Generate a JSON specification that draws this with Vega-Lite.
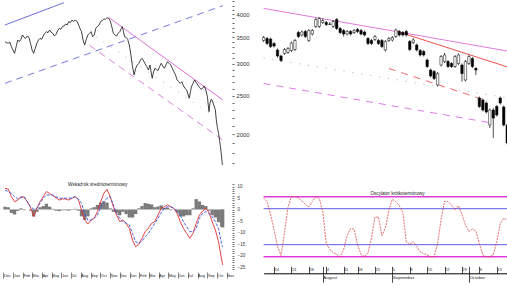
{
"$schema":"https://vega.github.io/schema/vega-lite/v6.json",
"width":507,"height":286,"padding":0,"autosize":"none",
"config":{"view":{"stroke":null},"axis":{"grid":false,"title":null,"labelFont":"Liberation Sans"},"text":{"font":"Liberation Sans"}},
"datasets":{
"tl":[{"d":"2006-12-06","p":3411},{"d":"2006-12-11","p":3391},{"d":"2006-12-16","p":3379},{"d":"2006-12-21","p":3405},{"d":"2006-12-26","p":3314},{"d":"2006-12-31","p":3251},{"d":"2007-01-05","p":3190},{"d":"2007-01-10","p":3314},{"d":"2007-01-15","p":3444},{"d":"2007-01-20","p":3411},{"d":"2007-01-25","p":3457},{"d":"2007-01-30","p":3545},{"d":"2007-02-04","p":3497},{"d":"2007-02-09","p":3477},{"d":"2007-02-14","p":3524},{"d":"2007-02-19","p":3497},{"d":"2007-02-24","p":3379},{"d":"2007-03-01","p":3251},{"d":"2007-03-06","p":3190},{"d":"2007-03-11","p":3283},{"d":"2007-03-16","p":3379},{"d":"2007-03-21","p":3444},{"d":"2007-03-26","p":3477},{"d":"2007-03-31","p":3457},{"d":"2007-04-05","p":3524},{"d":"2007-04-10","p":3579},{"d":"2007-04-15","p":3613},{"d":"2007-04-20","p":3592},{"d":"2007-04-25","p":3648},{"d":"2007-04-30","p":3599},{"d":"2007-05-05","p":3579},{"d":"2007-05-10","p":3524},{"d":"2007-05-15","p":3558},{"d":"2007-05-20","p":3634},{"d":"2007-05-25","p":3683},{"d":"2007-05-30","p":3662},{"d":"2007-06-04","p":3719},{"d":"2007-06-09","p":3733},{"d":"2007-06-14","p":3776},{"d":"2007-06-19","p":3755},{"d":"2007-06-24","p":3827},{"d":"2007-06-29","p":3805},{"d":"2007-07-04","p":3864},{"d":"2007-07-09","p":3827},{"d":"2007-07-14","p":3864},{"d":"2007-07-19","p":3842},{"d":"2007-07-24","p":3776},{"d":"2007-07-29","p":3683},{"d":"2007-08-03","p":3613},{"d":"2007-08-08","p":3444},{"d":"2007-08-13","p":3346},{"d":"2007-08-18","p":3457},{"d":"2007-08-23","p":3545},{"d":"2007-08-28","p":3579},{"d":"2007-09-02","p":3613},{"d":"2007-09-07","p":3511},{"d":"2007-09-12","p":3545},{"d":"2007-09-17","p":3683},{"d":"2007-09-22","p":3719},{"d":"2007-09-27","p":3755},{"d":"2007-10-02","p":3827},{"d":"2007-10-07","p":3849},{"d":"2007-10-12","p":3887},{"d":"2007-10-17","p":3879},{"d":"2007-10-22","p":3916},{"d":"2007-10-27","p":3901},{"d":"2007-11-01","p":3849},{"d":"2007-11-06","p":3719},{"d":"2007-11-11","p":3579},{"d":"2007-11-16","p":3545},{"d":"2007-11-21","p":3524},{"d":"2007-11-26","p":3579},{"d":"2007-12-01","p":3613},{"d":"2007-12-06","p":3683},{"d":"2007-12-09","p":3719},{"d":"2007-12-13","p":3613},{"d":"2007-12-16","p":3511},{"d":"2007-12-21","p":3497},{"d":"2007-12-26","p":3457},{"d":"2007-12-31","p":3346},{"d":"2008-01-05","p":3159},{"d":"2008-01-10","p":2954},{"d":"2008-01-15","p":2816},{"d":"2008-01-20","p":2926},{"d":"2008-01-25","p":2982},{"d":"2008-01-30","p":3011},{"d":"2008-02-04","p":3069},{"d":"2008-02-09","p":3099},{"d":"2008-02-14","p":3052},{"d":"2008-02-19","p":3000},{"d":"2008-02-24","p":2954},{"d":"2008-02-29","p":2898},{"d":"2008-03-05","p":2982},{"d":"2008-03-10","p":2816},{"d":"2008-03-12","p":2762},{"d":"2008-03-15","p":2843},{"d":"2008-03-20","p":2926},{"d":"2008-03-25","p":2909},{"d":"2008-03-30","p":2887},{"d":"2008-04-04","p":2954},{"d":"2008-04-09","p":3011},{"d":"2008-04-14","p":2965},{"d":"2008-04-19","p":2926},{"d":"2008-04-24","p":2982},{"d":"2008-04-29","p":3040},{"d":"2008-05-04","p":3011},{"d":"2008-05-09","p":2982},{"d":"2008-05-14","p":2926},{"d":"2008-05-19","p":2870},{"d":"2008-05-24","p":2816},{"d":"2008-05-29","p":2736},{"d":"2008-06-03","p":2709},{"d":"2008-06-08","p":2684},{"d":"2008-06-13","p":2709},{"d":"2008-06-18","p":2643},{"d":"2008-06-23","p":2608},{"d":"2008-06-28","p":2583},{"d":"2008-07-03","p":2509},{"d":"2008-07-06","p":2462},{"d":"2008-07-10","p":2558},{"d":"2008-07-13","p":2633},{"d":"2008-07-18","p":2684},{"d":"2008-07-23","p":2736},{"d":"2008-07-28","p":2694},{"d":"2008-08-02","p":2658},{"d":"2008-08-07","p":2623},{"d":"2008-08-12","p":2593},{"d":"2008-08-17","p":2608},{"d":"2008-08-22","p":2643},{"d":"2008-08-27","p":2583},{"d":"2008-09-01","p":2485},{"d":"2008-09-06","p":2280},{"d":"2008-09-09","p":2392},{"d":"2008-09-13","p":2448},{"d":"2008-09-16","p":2438},{"d":"2008-09-21","p":2369},{"d":"2008-09-26","p":2302},{"d":"2008-09-29","p":2173},{"d":"2008-10-02","p":2091},{"d":"2008-10-06","p":2012},{"d":"2008-10-09","p":1937},{"d":"2008-10-12","p":1864},{"d":"2008-10-15","p":1777},{"d":"2008-10-18","p":1677}],
"bl":[{"d":"2006-12-06","m":9.2,"s":8.5,"h":1.2},{"d":"2006-12-16","m":8.9,"s":7.8,"h":1.0},{"d":"2006-12-26","m":5.6,"s":7.0,"h":-1.5},{"d":"2007-01-05","m":3.4,"s":5.6,"h":-2.2},{"d":"2007-01-15","m":4.1,"s":4.6,"h":-0.6},{"d":"2007-01-25","m":5.6,"s":5.1,"h":0.5},{"d":"2007-02-04","m":5.3,"s":5.6,"h":-0.3},{"d":"2007-02-14","m":3.4,"s":3.4,"h":0},{"d":"2007-02-24","m":0.9,"s":1.2,"h":-0.5},{"d":"2007-03-06","m":-3.1,"s":0.2,"h":-3.0},{"d":"2007-03-16","m":0.5,"s":0.5,"h":-1.0},{"d":"2007-03-26","m":3.4,"s":2.7,"h":1.0},{"d":"2007-04-05","m":5.6,"s":4.9,"h":1.5},{"d":"2007-04-15","m":7.8,"s":6.3,"h":2.5},{"d":"2007-04-25","m":7.0,"s":6.3,"h":1.2},{"d":"2007-05-05","m":6.0,"s":6.3,"h":0.3},{"d":"2007-05-15","m":5.1,"s":5.6,"h":-0.5},{"d":"2007-05-25","m":4.1,"s":4.9,"h":-0.7},{"d":"2007-06-04","m":4.6,"s":4.9,"h":-0.3},{"d":"2007-06-14","m":4.6,"s":4.9,"h":-0.3},{"d":"2007-06-24","m":4.1,"s":4.9,"h":-0.5},{"d":"2007-07-04","m":4.9,"s":5.1,"h":-0.2},{"d":"2007-07-14","m":5.6,"s":5.6,"h":0.3},{"d":"2007-07-24","m":4.4,"s":4.6,"h":-0.5},{"d":"2007-08-03","m":-0.2,"s":2.7,"h":-3.0},{"d":"2007-08-13","m":-4.6,"s":-1.7,"h":-4.5},{"d":"2007-08-23","m":-6.3,"s":-4.6,"h":-3.0},{"d":"2007-09-02","m":-4.6,"s":-4.6,"h":0.5},{"d":"2007-09-12","m":-3.8,"s":-3.8,"h":1.0},{"d":"2007-09-22","m":-0.9,"s":-2.4,"h":2.0},{"d":"2007-10-02","m":3.4,"s":0.8,"h":3.0},{"d":"2007-10-12","m":7.0,"s":3.4,"h":3.5},{"d":"2007-10-22","m":8.8,"s":4.9,"h":3.0},{"d":"2007-11-01","m":5.6,"s":5.6,"h":0.5},{"d":"2007-11-11","m":1.2,"s":2.0,"h":-1.0},{"d":"2007-11-21","m":-2.4,"s":-1.7,"h":-1.5},{"d":"2007-12-01","m":-5.3,"s":-3.8,"h":-2.5},{"d":"2007-12-11","m":-4.6,"s":-5.3,"h":-1.0},{"d":"2007-12-21","m":-6.0,"s":-6.0,"h":-2.0},{"d":"2007-12-31","m":-8.2,"s":-6.7,"h":-3.5},{"d":"2008-01-10","m":-13.3,"s":-10.4,"h":-3.5},{"d":"2008-01-20","m":-16.2,"s":-14.0,"h":-2.0},{"d":"2008-01-30","m":-15.0,"s":-14.7,"h":0.5},{"d":"2008-02-09","m":-12.5,"s":-13.7,"h":1.5},{"d":"2008-02-19","m":-9.6,"s":-11.8,"h":2.8},{"d":"2008-02-29","m":-8.2,"s":-10.4,"h":2.5},{"d":"2008-03-10","m":-6.0,"s":-8.2,"h":2.2},{"d":"2008-03-20","m":-5.3,"s":-6.0,"h":1.0},{"d":"2008-03-30","m":-2.4,"s":-3.8,"h":1.3},{"d":"2008-04-09","m":0.5,"s":-1.4,"h":1.8},{"d":"2008-04-19","m":1.2,"s":0.5,"h":0.7},{"d":"2008-04-29","m":2.0,"s":1.2,"h":0.8},{"d":"2008-05-09","m":1.2,"s":1.2,"h":-0.3},{"d":"2008-05-19","m":0.5,"s":0.5,"h":0},{"d":"2008-05-29","m":-1.7,"s":-0.9,"h":-1.2},{"d":"2008-06-08","m":-5.3,"s":-2.4,"h":-3.0},{"d":"2008-06-18","m":-8.2,"s":-5.3,"h":-3.0},{"d":"2008-06-28","m":-10.4,"s":-7.5,"h":-2.5},{"d":"2008-07-08","m":-12.5,"s":-9.6,"h":-2.5},{"d":"2008-07-18","m":-10.4,"s":-9.6,"h":0.5},{"d":"2008-07-28","m":-6.0,"s":-8.2,"h":4.5},{"d":"2008-08-07","m":-2.4,"s":-3.8,"h":3.5},{"d":"2008-08-17","m":-0.7,"s":-1.7,"h":2.0},{"d":"2008-08-27","m":0.5,"s":-0.9,"h":1.5},{"d":"2008-09-06","m":-1.2,"s":-1.7,"h":-0.5},{"d":"2008-09-16","m":-5.3,"s":-3.1,"h":-2.5},{"d":"2008-09-26","m":-8.9,"s":-5.3,"h":-3.5},{"d":"2008-10-06","m":-14.0,"s":-8.2,"h":-5.5},{"d":"2008-10-16","m":-22.0,"s":-15.4,"h":-7.5},{"d":"2008-10-19","m":-24.1,"s":-16.2,"h":-7.8}],
"rt":[{"d":"2008-07-09","o":2546,"h":2582,"l":2534,"c":2570,"v":98},{"d":"2008-07-10","o":2562,"h":2574,"l":2510,"c":2522,"v":92},{"d":"2008-07-11","o":2558,"h":2570,"l":2486,"c":2498,"v":70},{"d":"2008-07-14","o":2522,"h":2534,"l":2490,"c":2502,"v":45},{"d":"2008-07-15","o":2470,"h":2482,"l":2410,"c":2422,"v":17},{"d":"2008-07-16","o":2422,"h":2434,"l":2374,"c":2386,"v":2},{"d":"2008-07-17","o":2442,"h":2486,"l":2430,"c":2474,"v":40},{"d":"2008-07-18","o":2450,"h":2494,"l":2438,"c":2482,"v":82},{"d":"2008-07-21","o":2466,"h":2538,"l":2454,"c":2526,"v":100},{"d":"2008-07-22","o":2474,"h":2558,"l":2462,"c":2546,"v":100},{"d":"2008-07-23","o":2610,"h":2622,"l":2566,"c":2578,"v":98},{"d":"2008-07-24","o":2590,"h":2626,"l":2578,"c":2614,"v":93},{"d":"2008-07-25","o":2618,"h":2630,"l":2566,"c":2578,"v":87},{"d":"2008-07-28","o":2546,"h":2638,"l":2534,"c":2626,"v":83},{"d":"2008-07-29","o":2598,"h":2638,"l":2586,"c":2626,"v":92},{"d":"2008-07-30","o":2658,"h":2726,"l":2646,"c":2714,"v":100},{"d":"2008-07-31","o":2658,"h":2734,"l":2646,"c":2722,"v":97},{"d":"2008-08-01","o":2690,"h":2722,"l":2678,"c":2706,"v":75},{"d":"2008-08-04","o":2690,"h":2702,"l":2662,"c":2674,"v":22},{"d":"2008-08-05","o":2677,"h":2694,"l":2674,"c":2675,"v":12},{"d":"2008-08-06","o":2658,"h":2710,"l":2646,"c":2698,"v":7},{"d":"2008-08-07","o":2714,"h":2726,"l":2630,"c":2642,"v":4},{"d":"2008-08-08","o":2642,"h":2654,"l":2598,"c":2610,"v":0},{"d":"2008-08-11","o":2626,"h":2638,"l":2578,"c":2598,"v":12},{"d":"2008-08-12","o":2598,"h":2630,"l":2586,"c":2618,"v":35},{"d":"2008-08-13","o":2618,"h":2630,"l":2586,"c":2598,"v":47},{"d":"2008-08-14","o":2610,"h":2638,"l":2598,"c":2626,"v":46},{"d":"2008-08-18","o":2634,"h":2646,"l":2606,"c":2618,"v":20},{"d":"2008-08-19","o":2626,"h":2638,"l":2586,"c":2598,"v":4},{"d":"2008-08-20","o":2614,"h":2626,"l":2578,"c":2590,"v":0},{"d":"2008-08-21","o":2562,"h":2574,"l":2510,"c":2522,"v":6},{"d":"2008-08-22","o":2546,"h":2558,"l":2510,"c":2522,"v":31},{"d":"2008-08-25","o":2554,"h":2590,"l":2542,"c":2578,"v":66},{"d":"2008-08-26","o":2546,"h":2558,"l":2510,"c":2522,"v":66},{"d":"2008-08-27","o":2546,"h":2558,"l":2486,"c":2498,"v":35},{"d":"2008-08-28","o":2470,"h":2550,"l":2458,"c":2538,"v":48},{"d":"2008-08-29","o":2546,"h":2574,"l":2534,"c":2562,"v":77},{"d":"2008-09-01","o":2550,"h":2582,"l":2538,"c":2570,"v":96},{"d":"2008-09-02","o":2578,"h":2642,"l":2566,"c":2630,"v":92},{"d":"2008-09-03","o":2618,"h":2630,"l":2578,"c":2590,"v":85},{"d":"2008-09-04","o":2610,"h":2622,"l":2578,"c":2590,"v":74},{"d":"2008-09-05","o":2618,"h":2630,"l":2578,"c":2590,"v":25},{"d":"2008-09-08","o":2538,"h":2550,"l":2462,"c":2474,"v":21},{"d":"2008-09-09","o":2530,"h":2566,"l":2518,"c":2550,"v":25},{"d":"2008-09-10","o":2510,"h":2522,"l":2458,"c":2470,"v":17},{"d":"2008-09-11","o":2466,"h":2478,"l":2418,"c":2430,"v":8},{"d":"2008-09-12","o":2458,"h":2470,"l":2418,"c":2430,"v":5},{"d":"2008-09-15","o":2390,"h":2402,"l":2326,"c":2338,"v":3},{"d":"2008-09-16","o":2310,"h":2322,"l":2250,"c":2262,"v":0},{"d":"2008-09-17","o":2298,"h":2310,"l":2230,"c":2242,"v":0},{"d":"2008-09-18","o":2190,"h":2294,"l":2178,"c":2282,"v":22},{"d":"2008-09-19","o":2350,"h":2430,"l":2338,"c":2418,"v":62},{"d":"2008-09-22","o":2378,"h":2448,"l":2366,"c":2430,"v":92},{"d":"2008-09-23","o":2378,"h":2390,"l":2326,"c":2338,"v":92},{"d":"2008-09-24","o":2362,"h":2374,"l":2326,"c":2338,"v":86},{"d":"2008-09-25","o":2338,"h":2430,"l":2326,"c":2418,"v":78},{"d":"2008-09-26","o":2362,"h":2442,"l":2350,"c":2430,"v":85},{"d":"2008-09-29","o":2350,"h":2362,"l":2218,"c":2282,"v":70},{"d":"2008-09-30","o":2230,"h":2390,"l":2218,"c":2378,"v":53},{"d":"2008-10-01","o":2362,"h":2430,"l":2350,"c":2418,"v":42},{"d":"2008-10-02","o":2402,"h":2414,"l":2326,"c":2338,"v":46},{"d":"2008-10-03","o":2322,"h":2334,"l":2270,"c":2310,"v":43},{"d":"2008-10-06","o":2086,"h":2098,"l":2006,"c":2018,"v":22},{"d":"2008-10-07","o":2070,"h":2082,"l":1978,"c":1990,"v":3},{"d":"2008-10-08","o":2046,"h":2058,"l":1962,"c":1974,"v":0},{"d":"2008-10-09","o":1870,"h":2002,"l":1846,"c":1990,"v":0},{"d":"2008-10-10","o":1990,"h":2006,"l":1766,"c":1926,"v":3},{"d":"2008-10-13","o":2018,"h":2030,"l":1938,"c":1950,"v":25},{"d":"2008-10-14","o":2086,"h":2098,"l":2034,"c":2046,"v":55},{"d":"2008-10-15","o":2014,"h":2026,"l":1858,"c":1870,"v":64},{"d":"2008-10-16","o":1870,"h":1882,"l":1714,"c":1726,"v":61}]
},
"layer":[
{
"resolve":{"scale":{"y":"independent"},"axis":{"x":"independent","y":"independent"}},
"layer":[
{"data":{"values":[{"d":"2006-12-06","p":3755},{"d":"2007-06-09","p":4270}]},"mark":{"type":"line","color":"#5b5bd6","strokeWidth":0.9},
 "encoding":{"x":{"field":"d","type":"temporal","scale":{"domain":[{"year":2006,"month":12,"date":6},{"year":2008,"month":10,"date":20}],"range":[0,228]},"axis":null},
 "y":{"field":"p","type":"quantitative","scale":{"type":"log","domain":[1583,4336],"range":[175,0],"nice":false},"axis":null}}},
{"data":{"values":[{"d":"2006-12-06","p":2684},{"d":"2008-10-20","p":4197}]},"mark":{"type":"line","color":"#6a6ae0","strokeWidth":0.9,"strokeDash":[7,5]},
 "encoding":{"x":{"field":"d","type":"temporal","scale":{"domain":[{"year":2006,"month":12,"date":6},{"year":2008,"month":10,"date":20}],"range":[0,228]},"axis":null},
 "y":{"field":"p","type":"quantitative","scale":{"type":"log","domain":[1583,4336],"range":[175,0],"nice":false},"axis":null}}},
{"data":{"values":[{"d":"2007-10-27","p":3924},{"d":"2008-10-20","p":2436}]},"mark":{"type":"line","color":"#e070d8","strokeWidth":1},
 "encoding":{"x":{"field":"d","type":"temporal","scale":{"domain":[{"year":2006,"month":12,"date":6},{"year":2008,"month":10,"date":20}],"range":[0,228]},"axis":null},
 "y":{"field":"p","type":"quantitative","scale":{"type":"log","domain":[1583,4336],"range":[175,0],"nice":false},"axis":null}}},
{"data":{"values":[{"d":"2007-08-28","p":3340},{"d":"2008-10-20","p":1935}]},"mark":{"type":"line","color":"#e080e0","strokeWidth":1,"strokeDash":[7,5]},
 "encoding":{"x":{"field":"d","type":"temporal","scale":{"domain":[{"year":2006,"month":12,"date":6},{"year":2008,"month":10,"date":20}],"range":[0,228]},"axis":null},
 "y":{"field":"p","type":"quantitative","scale":{"type":"log","domain":[1583,4336],"range":[175,0],"nice":false},"axis":null}}},
{"data":{"values":[{"d":"2007-09-17","p":3511},{"d":"2008-09-16","p":2237}]},"mark":{"type":"line","color":"#d090d0","strokeWidth":1,"strokeDash":[1,8]},
 "encoding":{"x":{"field":"d","type":"temporal","scale":{"domain":[{"year":2006,"month":12,"date":6},{"year":2008,"month":10,"date":20}],"range":[0,228]},"axis":null},
 "y":{"field":"p","type":"quantitative","scale":{"type":"log","domain":[1583,4336],"range":[175,0],"nice":false},"axis":null}}},
{"data":{"name":"tl"},"mark":{"type":"line","color":"#111111","strokeWidth":0.8},
 "encoding":{"x":{"field":"d","type":"temporal","scale":{"domain":[{"year":2006,"month":12,"date":6},{"year":2008,"month":10,"date":20}],"range":[0,228]},"axis":null},
 "y":{"field":"p","type":"quantitative","scale":{"type":"log","domain":[1583,4336],"range":[175,0],"nice":false},
  "axis":{"orient":"right","offset":-275,"values":[1700,1800,1900,2000,2100,2200,2300,2400,2500,2600,2700,2800,2900,3000,3100,3200,3300,3400,3500,3600,3700,3800,3900,4000,4100,4200,4300],"format":"d","labelExpr":"datum.value % 500 == 0 ? datum.label : ''","domain":false,"tickSize":2,"tickWidth":0.8,"tickColor":"#333","labelPadding":2,"labelFontSize":5.8,"labelColor":"#333","labelOverlap":false}}}},
{"data":{"name":"bl"},"mark":{"type":"bar","size":3.3,"color":"#7a7a7a"},
 "encoding":{"x":{"field":"d","type":"temporal","scale":{"domain":[{"year":2006,"month":12,"date":6},{"year":2008,"month":10,"date":20}],"range":[0,228]},
  "axis":{"orient":"bottom","offset":-14,"tickCount":{"interval":"month","step":1},"format":"%b","domain":false,"tickSize":6,"tickWidth":0.6,"tickColor":"#333","labelAlign":"left","labelDx":0.8,"labelPadding":-4.5,"labelBaseline":"top","labelFontSize":3.8,"labelColor":"#222","labelOverlap":false,"labelBound":false,"labelFlush":false}},
 "y":{"field":"h","type":"quantitative","scale":{"domain":[-27,12],"range":[271.6,181.9],"nice":false,"zero":false},
  "axis":{"orient":"right","offset":-275,"values":[-26,-25,-24,-23,-22,-21,-20,-19,-18,-17,-16,-15,-14,-13,-12,-11,-10,-9,-8,-7,-6,-5,-4,-3,-2,-1,0,1,2,3,4,5,6,7,8,9,10,11],"labelExpr":"datum.value % 5 == 0 ? datum.label : ''","domain":false,"tickSize":2,"tickWidth":0.7,"tickColor":"#333","labelPadding":3,"labelFontSize":4.5,"labelColor":"#333","labelOverlap":false}},
 "y2":{"datum":0}}},
{"data":{"name":"bl"},"mark":{"type":"line","color":"#e03030","strokeWidth":0.9},
 "encoding":{"x":{"field":"d","type":"temporal","scale":{"domain":[{"year":2006,"month":12,"date":6},{"year":2008,"month":10,"date":20}],"range":[0,228]},"axis":null},
 "y":{"field":"m","type":"quantitative","scale":{"domain":[-27,12],"range":[271.6,181.9],"nice":false,"zero":false},"axis":null}}},
{"data":{"name":"bl"},"mark":{"type":"line","color":"#3a4fe0","strokeWidth":0.9,"strokeDash":[3,1.5]},
 "encoding":{"x":{"field":"d","type":"temporal","scale":{"domain":[{"year":2006,"month":12,"date":6},{"year":2008,"month":10,"date":20}],"range":[0,228]},"axis":null},
 "y":{"field":"s","type":"quantitative","scale":{"domain":[-27,12],"range":[271.6,181.9],"nice":false,"zero":false},"axis":null}}},
{"data":{"values":[{"d":"2007-09-23","v":10.65,"t":"Wskaźnik średnioterminowy"}]},"mark":{"type":"text","fontSize":4.8,"color":"#222","align":"center","baseline":"middle"},
 "encoding":{"x":{"field":"d","type":"temporal","scale":{"domain":[{"year":2006,"month":12,"date":6},{"year":2008,"month":10,"date":20}],"range":[0,228]},"axis":null},
 "y":{"field":"v","type":"quantitative","scale":{"domain":[-27,12],"range":[271.6,181.9],"nice":false,"zero":false},"axis":null},"text":{"field":"t"}}}
]
},
{
"resolve":{"scale":{"y":"independent"},"axis":{"x":"independent","y":"independent"}},
"layer":[
{"data":{"values":[{"d":"2008-07-09","p":2803},{"d":"2008-10-16","p":2462}]},"mark":{"type":"line","color":"#e47ade","strokeWidth":1},
 "encoding":{"x":{"field":"d","type":"ordinal","sort":"ascending","scale":{"type":"point","range":[263.6,507.2],"padding":0},"axis":null},
 "y":{"field":"p","type":"quantitative","scale":{"domain":[1470,2870],"range":[175,0],"nice":false,"zero":false},"axis":null}}},
{"data":{"values":[{"d":"2008-09-02","p":2622},{"d":"2008-10-16","p":2335}]},"mark":{"type":"line","color":"#e8504a","strokeWidth":1},
 "encoding":{"x":{"field":"d","type":"ordinal","sort":"ascending","scale":{"type":"point","range":[263.6,507.2],"padding":0},"axis":null},
 "y":{"field":"p","type":"quantitative","scale":{"domain":[1470,2870],"range":[175,0],"nice":false,"zero":false},"axis":null}}},
{"data":{"values":[{"d":"2008-07-09","p":2406},{"d":"2008-10-16","p":2088}]},"mark":{"type":"line","color":"#c09ac0","strokeWidth":1,"strokeDash":[1,8]},
 "encoding":{"x":{"field":"d","type":"ordinal","sort":"ascending","scale":{"type":"point","range":[263.6,507.2],"padding":0},"axis":null},
 "y":{"field":"p","type":"quantitative","scale":{"domain":[1470,2870],"range":[175,0],"nice":false,"zero":false},"axis":null}}},
{"data":{"values":[{"d":"2008-08-29","p":2322},{"d":"2008-10-08","p":2065}]},"mark":{"type":"line","color":"#e86a6a","strokeWidth":1,"strokeDash":[7,6]},
 "encoding":{"x":{"field":"d","type":"ordinal","sort":"ascending","scale":{"type":"point","range":[263.6,507.2],"padding":0},"axis":null},
 "y":{"field":"p","type":"quantitative","scale":{"domain":[1470,2870],"range":[175,0],"nice":false,"zero":false},"axis":null}}},
{"data":{"values":[{"d":"2008-07-09","p":2202},{"d":"2008-10-10","p":1884}]},"mark":{"type":"line","color":"#e07ae8","strokeWidth":1,"strokeDash":[7,6]},
 "encoding":{"x":{"field":"d","type":"ordinal","sort":"ascending","scale":{"type":"point","range":[263.6,507.2],"padding":0},"axis":null},
 "y":{"field":"p","type":"quantitative","scale":{"domain":[1470,2870],"range":[175,0],"nice":false,"zero":false},"axis":null}}},
{"data":{"name":"rt"},"mark":{"type":"rule","color":"#000000","strokeWidth":0.7},
 "encoding":{"x":{"field":"d","type":"ordinal","sort":"ascending","scale":{"type":"point","range":[263.6,507.2],"padding":0},"axis":null},
 "y":{"field":"l","type":"quantitative","scale":{"domain":[1470,2870],"range":[175,0],"nice":false,"zero":false},"axis":null},"y2":{"field":"h"}}},
{"data":{"name":"rt"},"mark":{"type":"bar","size":2.4,"stroke":"#000000","strokeWidth":0.5},
 "encoding":{"x":{"field":"d","type":"ordinal","sort":"ascending","scale":{"type":"point","range":[263.6,507.2],"padding":0},"axis":null},
 "y":{"field":"o","type":"quantitative","scale":{"domain":[1470,2870],"range":[175,0],"nice":false,"zero":false},"axis":null},"y2":{"field":"c"},
 "fill":{"condition":{"test":"datum.c >= datum.o","value":"#ffffff"},"value":"#000000"}}},
{"data":{"values":[{"d":"2008-07-09","d2":"2008-10-16","v":0},{"d":"2008-07-09","d2":"2008-10-16","v":100}]},"mark":{"type":"rule","color":"#e03ad8","strokeWidth":1.5},
 "encoding":{"x":{"field":"d","type":"ordinal","sort":"ascending","scale":{"type":"point","range":[263.6,507.2],"padding":0},
  "axis":{"orient":"bottom","offset":-12.7,"values":["2008-07-14","2008-07-21","2008-07-28","2008-08-01","2008-08-04","2008-08-11","2008-08-18","2008-08-25","2008-09-01","2008-09-08","2008-09-15","2008-09-22","2008-09-29","2008-10-01","2008-10-06","2008-10-13"],"labelExpr":"(datum.value == '2008-08-01' || datum.value == '2008-10-01') ? '' : '' + toNumber(slice(datum.value, 8))","tickSize":-7,"tickWidth":0.7,"tickColor":"#000000","domain":true,"domainColor":"#000000","domainWidth":1,"labelPadding":1,"labelAlign":"left","labelDx":1.5,"labelBaseline":"top","labelFontSize":4,"labelColor":"#222","labelOverlap":false,"labelBound":false,"labelFlush":false,"labelAngle":0}},
 "x2":{"field":"d2"},
 "y":{"field":"v","type":"quantitative","scale":{"domain":[0,100],"range":[256.7,196.7],"nice":false,"zero":false},"axis":null}}},
{"data":{"values":[{"d":"2008-07-09","d2":"2008-10-16","v":20},{"d":"2008-07-09","d2":"2008-10-16","v":80}]},"mark":{"type":"rule","color":"#5a5ae6","strokeWidth":1},
 "encoding":{"x":{"field":"d","type":"ordinal","sort":"ascending","scale":{"type":"point","range":[263.6,507.2],"padding":0},
  "axis":{"orient":"bottom","offset":-12.7,"values":["2008-08-01","2008-09-01","2008-10-01"],"labelExpr":"datum.value == '2008-08-01' ? 'August' : datum.value == '2008-09-01' ? 'September' : 'October'","tickSize":9,"tickWidth":0.7,"tickColor":"#000000","domain":false,"labelPadding":-7,"labelAlign":"left","labelDx":1.5,"labelBaseline":"top","labelFontSize":4.4,"labelColor":"#222","labelOverlap":false,"labelBound":false,"labelFlush":false,"labelAngle":0}},
 "x2":{"field":"d2"},
 "y":{"field":"v","type":"quantitative","scale":{"domain":[0,100],"range":[256.7,196.7],"nice":false,"zero":false},"axis":null}}},
{"data":{"name":"rt"},"mark":{"type":"line","color":"#e04848","strokeWidth":0.8,"strokeDash":[2,1]},
 "encoding":{"x":{"field":"d","type":"ordinal","sort":"ascending","scale":{"type":"point","range":[263.6,507.2],"padding":0},"axis":null},
 "y":{"field":"v","type":"quantitative","scale":{"domain":[0,100],"range":[256.7,196.7],"nice":false,"zero":false},"axis":null}}},
{"data":{"values":[{"d":"2008-09-02","v":105.3,"t":"Oscylator krótkoterminowy"}]},"mark":{"type":"text","fontSize":4.6,"color":"#222","align":"center","baseline":"middle","dx":1.7},
 "encoding":{"x":{"field":"d","type":"ordinal","sort":"ascending","scale":{"type":"point","range":[263.6,507.2],"padding":0},"axis":null},
 "y":{"field":"v","type":"quantitative","scale":{"domain":[0,100],"range":[256.7,196.7],"nice":false,"zero":false},"axis":null},"text":{"field":"t"}}}
]
}
],
"resolve":{"scale":{"x":"independent","y":"independent"},"axis":{"x":"independent","y":"independent"}}
}
